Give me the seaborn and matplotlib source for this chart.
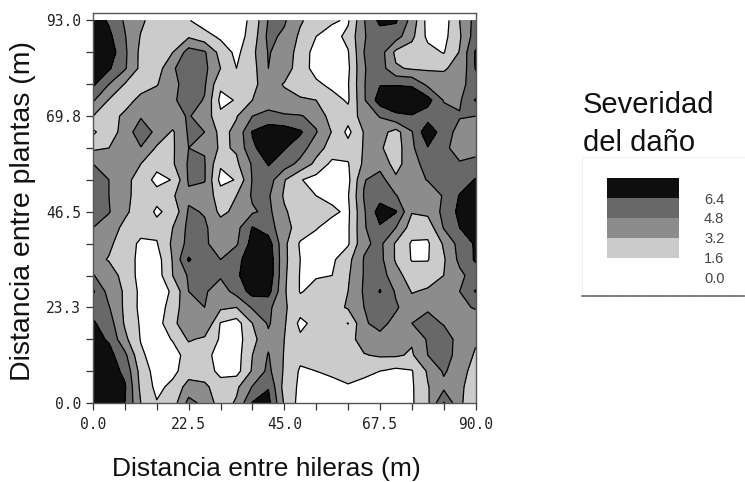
import numpy as np
import matplotlib
matplotlib.use("Agg")
import matplotlib.pyplot as plt
from matplotlib.colors import ListedColormap
import seaborn as sns

severity_rows = [
 [7.2,6.2,4.6,3.5,2.4,2.4,1.7,0.8,0.8,0.8,2.0,4.9,5.0,3.4,2.4,1.8,1.4,4.7,6.8,6.6,4.2,1.0,0.8,3.2,5.4],
 [7.2,6.8,4.9,3.1,2.4,2.6,3.0,2.2,1.3,0.8,2.3,5.2,4.5,2.9,1.6,1.0,2.0,4.7,5.6,5.5,3.6,1.2,1.1,3.0,5.6],
 [7.4,7.4,5.1,2.8,2.4,3.2,5.5,5.0,2.6,1.2,2.8,4.9,4.2,2.5,1.0,0.8,1.5,4.8,5.6,2.8,2.4,2.2,1.5,3.3,6.6],
 [7.6,6.6,5.0,2.8,2.4,4.6,5.8,5.2,3.2,1.6,2.6,4.8,4.0,2.4,1.0,0.8,1.3,4.7,5.6,3.4,3.0,3.0,3.1,3.5,6.5],
 [6.7,4.8,3.1,2.6,3.1,4.3,5.6,5.0,1.9,2.6,2.9,3.8,3.1,2.4,1.9,1.2,1.5,4.7,6.3,6.3,6.2,4.4,3.6,4.3,5.6],
 [5.0,3.1,2.6,3.6,4.0,4.6,5.4,4.7,1.2,1.7,3.2,4.0,3.6,3.4,3.2,2.2,1.4,4.6,7.2,7.5,7.5,7.0,4.7,4.6,6.5],
 [3.2,2.6,3.5,4.6,4.0,4.4,4.9,4.2,1.9,3.1,4.8,5.3,5.0,4.9,4.4,2.4,2.2,3.9,4.9,6.1,6.3,5.6,5.4,4.9,4.8],
 [1.3,2.7,3.6,6.0,4.3,3.0,5.0,4.8,2.7,3.6,6.5,7.4,7.3,6.6,4.9,3.1,1.2,3.3,3.8,2.6,4.7,7.6,5.5,4.3,3.9],
 [2.9,3.2,3.9,4.7,3.0,3.0,4.8,4.7,2.9,3.4,6.2,7.0,6.5,5.6,3.8,2.6,2.2,3.3,3.4,2.4,4.5,6.3,5.3,3.9,3.8],
 [4.8,4.0,4.3,3.2,1.9,3.0,5.0,4.9,1.8,2.9,5.0,6.5,5.6,4.3,2.8,1.2,1.5,3.5,4.2,2.6,4.2,5.4,5.5,5.0,5.6],
 [5.2,4.8,3.9,2.2,1.3,1.65,5.0,4.9,1.1,1.7,4.9,5.6,3.3,1.7,1.0,0.8,1.2,4.7,5.5,3.5,4.0,4.9,5.3,5.5,6.5],
 [5.6,4.8,3.7,2.4,2.0,3.0,4.5,4.2,2.4,3.2,5.0,5.0,3.0,2.0,1.6,1.2,1.5,4.9,5.7,4.9,3.6,3.4,5.0,6.5,7.2],
 [5.4,4.9,3.5,2.4,1.4,2.0,5.0,4.7,2.8,3.6,4.6,5.2,3.4,2.4,2.6,1.9,1.3,4.6,7.2,6.5,3.3,3.6,5.2,6.8,7.2],
 [4.8,4.0,2.8,2.2,2.0,3.2,5.2,5.0,4.0,4.3,6.5,5.6,3.7,2.6,1.7,1.0,1.4,4.6,6.2,4.8,2.4,2.2,4.9,6.4,7.4],
 [3.9,3.5,2.4,1.3,1.5,3.5,5.3,5.0,4.2,4.6,7.0,7.2,3.6,1.4,1.0,0.9,1.4,4.5,5.2,3.0,1.4,1.4,3.4,5.4,6.6],
 [3.7,3.1,2.3,1.2,0.9,3.3,6.6,5.2,4.8,6.0,7.2,7.6,3.6,1.6,1.0,1.3,2.7,4.9,5.3,3.0,1.5,1.5,3.0,5.2,6.6],
 [4.9,3.9,2.7,1.0,0.8,3.2,5.0,5.1,5.0,6.2,7.2,7.6,3.5,1.5,1.5,1.6,3.0,4.9,5.6,3.8,2.4,2.5,3.2,4.4,5.6],
 [6.6,4.2,3.0,1.2,0.9,1.8,4.8,5.0,4.0,5.4,7.0,7.0,3.4,1.5,2.0,2.4,3.2,5.0,6.5,4.6,3.1,3.4,3.8,4.8,6.5],
 [5.7,4.9,2.9,1.2,0.9,2.2,4.6,4.8,3.5,3.2,5.0,5.2,3.4,2.3,2.4,2.5,3.4,4.8,5.4,5.0,3.9,4.6,4.0,4.3,5.0],
 [6.6,5.6,3.0,1.4,1.0,2.6,4.8,4.8,1.5,0.9,3.2,5.0,3.4,1.2,2.1,2.4,1.55,4.6,5.3,4.3,4.8,5.3,4.7,3.8,3.5],
 [7.0,6.2,3.6,1.5,0.9,1.7,3.4,2.9,1.4,0.9,2.7,4.4,3.2,1.9,2.4,2.4,2.6,3.9,4.3,3.5,3.4,5.0,5.5,4.3,3.4],
 [7.2,7.0,5.2,1.9,0.8,1.0,2.2,2.0,1.1,0.9,3.2,4.9,3.1,2.0,2.2,2.4,2.5,3.1,3.4,3.4,3.0,4.8,5.5,4.2,3.0],
 [7.3,7.3,6.0,2.6,0.9,1.2,2.4,2.3,1.2,1.0,3.4,5.2,3.0,1.4,1.6,1.9,2.0,1.9,1.6,1.2,1.5,3.4,5.0,4.0,2.4],
 [7.4,7.4,6.6,2.8,1.2,2.0,3.9,3.6,2.2,2.9,4.9,6.3,2.6,1.3,0.9,1.1,1.5,1.2,1.0,0.9,1.4,3.1,4.4,3.5,2.4],
 [7.4,7.4,6.4,3.2,1.7,2.4,5.3,4.4,2.4,3.4,6.5,6.9,3.0,1.0,0.8,0.8,0.8,0.8,0.8,0.8,1.4,2.9,6.5,3.5,2.0],
]
x_metres = np.arange(25) * 3.75
y_metres = 93.0 - np.arange(25) * 3.875
levels = [0.0, 1.6, 3.2, 4.8, 6.4, 8.0]
level_colors = ["#ffffff", "#cbcbcb", "#8c8c8c", "#686868", "#0e0e0e"]
x_tick_values = np.arange(13) * 7.5
y_tick_values = np.arange(13) * 7.75
x_tick_labels = ["0.0", "", "", "22.5", "", "", "45.0", "", "", "67.5", "", "", "90.0"]
y_tick_labels = ["0.0", "", "", "23.3", "", "", "46.5", "", "", "69.8", "", "", "93.0"]
legend_bands = [[7.2], [5.6], [4.0], [2.4]]
legend_labels = ["6.4", "4.8", "3.2", "1.6", "0.0"]
legend_title = ["Severidad", "del daño"]
x_title = "Distancia entre hileras (m)"
y_title = "Distancia entre plantas (m)"

sns.set_style("white")
W, H = 745, 482
fig = plt.figure(figsize=(W / 100, H / 100), dpi=100)

def px_axes(l, t, r, b):
    return fig.add_axes([l / W, 1 - b / H, (r - l) / W, (b - t) / H])

grid = np.array(severity_rows)
ax = px_axes(93, 12.5, 475.6, 403)
ax.contourf(x_metres, y_metres, grid, levels=levels, colors=level_colors)
ax.contour(x_metres, y_metres, grid, levels=levels[1:-1], colors="black", linewidths=0.9)
ax.set_xlim(0, 90)
ax.set_ylim(0, 93.0 * (403 - 12.5) / (403 - 20.5))
ax.set_xticks(x_tick_values)
ax.set_xticklabels(x_tick_labels)
ax.set_yticks(y_tick_values)
ax.set_yticklabels(y_tick_labels)
ax.tick_params(axis="both", length=5, width=0.9, color="#333333", labelsize=10.5,
               left=True, bottom=True, labelcolor="#222222")
ax.tick_params(axis="x", pad=5)
ax.tick_params(axis="y", pad=3.5)
for t in ax.get_xticklabels() + ax.get_yticklabels():
    t.set_family("DejaVu Sans Mono")
for s in ax.spines.values():
    s.set_color("#555555")
    s.set_linewidth(1.0)
fig.text(266 / W, 1 - 469 / H, x_title, family="Liberation Sans", fontsize=19,
         ha="center", va="center", color="#111111")
fig.text(23 / W, 1 - 211 / H, y_title, family="Liberation Sans", fontsize=20.5,
         ha="center", va="center", rotation=90, color="#111111")

for line, yp in zip(legend_title, [105, 143]):
    fig.text(583 / W, 1 - yp / H, line, family="Liberation Sans", fontsize=21,
             ha="left", va="center", color="#111111")

box = px_axes(582, 157, 745, 296)
box.set_xticks([])
box.set_yticks([])
for name, s in box.spines.items():
    s.set_visible(name in ("left", "bottom", "top"))
box.spines["left"].set_color("#eeeeee")
box.spines["top"].set_color("#f2f2f2")
box.spines["bottom"].set_color("#777777")
box.spines["bottom"].set_linestyle((0, (0.7, 0.7)))
box.spines["bottom"].set_linewidth(1.2)
box.patch.set_facecolor("#ffffff")

sw = px_axes(607, 178, 679, 258)
sns.heatmap(np.array(legend_bands), ax=sw, cbar=False, vmin=0, vmax=8,
            cmap=ListedColormap(level_colors), xticklabels=False, yticklabels=False)
for lab, yp in zip(legend_labels, [200, 219.5, 239, 259, 279]):
    fig.text(704 / W, 1 - yp / H, lab, family="Liberation Sans", fontsize=10.5,
             ha="left", va="center", color="#444444")

fig.savefig("out.png", dpi=100)
